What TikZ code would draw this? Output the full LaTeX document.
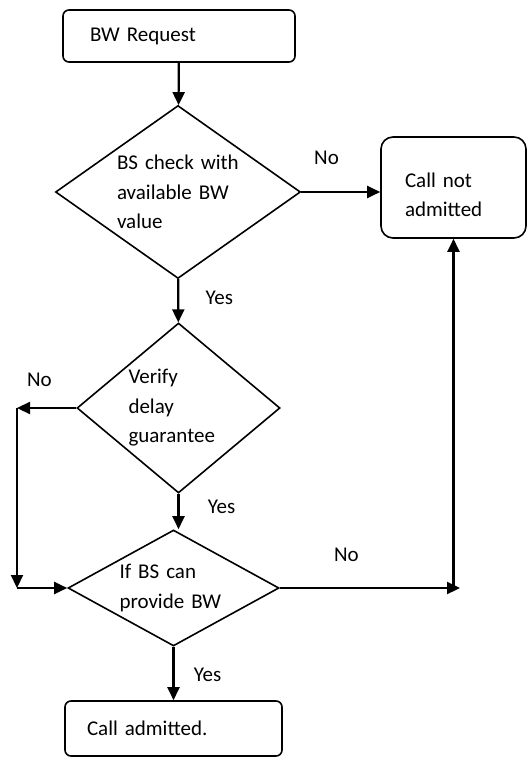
\documentclass[tikz,border=0pt]{standalone}
\usepackage{fontspec}
\setmainfont{Carlito}
\usepackage{tikz}
\usetikzlibrary{arrows.meta}
\usetikzlibrary{shapes.geometric}

\begin{document}
\begin{tikzpicture}[x=0.5pt,y=-0.5pt,font=\fontsize{10.5pt}{14.75pt}\selectfont]
				\useasboundingbox (0,0) rectangle (528,758);
				\begin{scope}[every node/.style={draw,line width=0.8pt,align=left,inner sep=0pt}]
				\node[rounded corners=3pt,minimum width=116pt,minimum height=26pt,text width=89pt] (req) at (179,36) {BW Request};
				\node[diamond,aspect=1.416,minimum width=122.5pt,minimum height=86.5pt,text width=61pt] (bwchk) at (178,192) {BS check with\\available BW\\value};
				\node[rounded corners=6pt,minimum width=72.5pt,minimum height=50.5pt,text width=48.5pt,text depth=7.7pt] (notadm) at (453.5,187.5) {Call not\\admitted};
				\node[diamond,aspect=1.194,minimum width=101.5pt,minimum height=85pt,text width=50pt] (delay) at (178.5,408) {Verify\\delay\\guarantee};
				\node[diamond,aspect=1.819,minimum width=105.5pt,minimum height=58pt,text width=54pt] (provide) at (173.5,588) {If BS can\\provide BW};
				\node[rounded corners=3pt,minimum width=108.5pt,minimum height=27.5pt,text width=86.5pt] (adm) at (173.5,728.5) {Call admitted.};
				\end{scope}
				\coordinate (nl) at (17,408);
				\coordinate (nb) at (17,588);
				\coordinate (ne) at (460,588);
				\begin{scope}[>={Triangle[length=6.5pt,width=6pt]},
				every node/.style={inner sep=0pt},
				every edge/.style={draw,line width=1.1pt}]
				\path [->] (req) edge (bwchk);
				\path [->] (bwchk.east) edge node[pos=.32,yshift=17pt] {No} (bwchk.east -| notadm.west);
				\path [->] (bwchk) edge node[pos=.43,xshift=20.5pt] {Yes} (delay);
				\path [->] (delay.west) edge node[pos=.62,yshift=14pt] {No} (nl);
				\path [->] (nl) edge (nb);
				\path [->] (nb) edge (provide.west);
				\path [->] (delay.south) edge node[pos=.36,xshift=21.5pt] {Yes} (delay.south |- provide.north);
				\path [->] (provide.east) edge node[pos=.37,yshift=16.5pt] {No} (ne);
				\path [->] (provide.east -| notadm.south) edge (notadm.south);
				\path [->] (provide) edge node[pos=.52,xshift=17pt] {Yes} (adm);
				\end{scope}
\end{tikzpicture}
\end{document}
